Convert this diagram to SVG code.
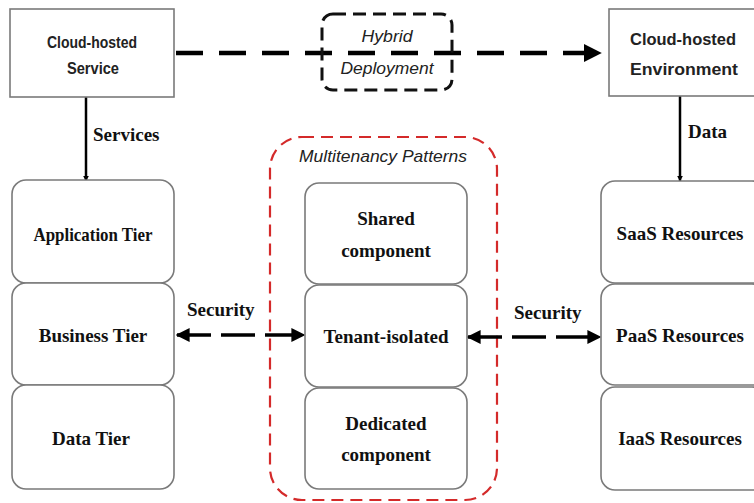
<svg xmlns="http://www.w3.org/2000/svg" width="754" height="503" viewBox="0 0 754 503">
<defs>
<style>
.box{fill:#fff;stroke:#7a7a7a;stroke-width:1.6}
.sans{font-family:"Liberation Sans",Arial,sans-serif;font-weight:bold;font-size:16px;fill:#222;text-anchor:middle}
.ital{font-family:"Liberation Sans",Arial,sans-serif;font-style:italic;font-size:17px;fill:#222;text-anchor:middle}
.serif{font-family:"Liberation Serif","Times New Roman",serif;font-weight:bold;font-size:19px;fill:#111;text-anchor:middle}
.lbl{font-family:"Liberation Serif","Times New Roman",serif;font-weight:bold;font-size:19px;fill:#111}
.conn{stroke:#000;fill:none}
</style>
<marker id="ah" viewBox="0 0 10 10" refX="9" refY="5" markerWidth="4" markerHeight="4" orient="auto-start-reverse" markerUnits="strokeWidth">
<path d="M0,0 L10,5 L0,10 z" fill="#000"/>
</marker>
<marker id="ahs" viewBox="0 0 10 10" refX="9" refY="5" markerWidth="6" markerHeight="6" orient="auto-start-reverse" markerUnits="userSpaceOnUse">
<path d="M0,0 L10,5 L0,10 z" fill="#000"/>
</marker>
</defs>
<rect width="754" height="503" fill="#fff"/>

<g id="multitenancy-group">
<rect x="270" y="137" width="227" height="363" rx="32" fill="none" stroke="#d42a2a" stroke-width="2.2" stroke-dasharray="12 7"/>
<text class="ital" x="383" y="162" textLength="168" lengthAdjust="spacingAndGlyphs">Multitenancy Patterns</text>
</g>

<g id="connectors">
<line class="conn" x1="176" y1="53" x2="600" y2="53" stroke-width="4.5" stroke-dasharray="27 16" marker-end="url(#ah)"/>
<line class="conn" x1="86" y1="97" x2="86" y2="181" stroke-width="2.5" marker-end="url(#ahs)"/>
<line class="conn" x1="680" y1="96" x2="680" y2="181" stroke-width="2.5" marker-end="url(#ahs)"/>
<line class="conn" x1="177" y1="335" x2="304" y2="335" stroke-width="3.5" stroke-dasharray="34 10" marker-start="url(#ah)" marker-end="url(#ah)"/>
<line class="conn" x1="468" y1="337" x2="600" y2="337" stroke-width="3.5" stroke-dasharray="34 10" marker-start="url(#ah)" marker-end="url(#ah)"/>
<text class="lbl" x="93" y="141">Services</text>
<text class="lbl" x="688" y="138">Data</text>
<text class="lbl" x="187" y="316">Security</text>
<text class="lbl" x="514" y="319">Security</text>
</g>

<g id="cloud-service">
<rect class="box" x="10" y="9" width="164" height="88"/>
<text class="sans" x="92" y="48" textLength="90" lengthAdjust="spacingAndGlyphs">Cloud-hosted</text>
<text class="sans" x="93" y="74" textLength="52" lengthAdjust="spacingAndGlyphs">Service</text>
</g>

<g id="hybrid">
<rect x="322" y="14" width="130" height="76" rx="11" fill="none" stroke="#111" stroke-width="3" stroke-dasharray="13 7"/>
<text class="ital" x="387" y="42" textLength="51" lengthAdjust="spacingAndGlyphs">Hybrid</text>
<text class="ital" x="387" y="74" textLength="93" lengthAdjust="spacingAndGlyphs">Deployment</text>
</g>

<g id="cloud-env">
<rect class="box" x="609" y="9" width="150" height="87"/>
<text class="sans" x="683" y="45" font-size="19" textLength="106" lengthAdjust="spacingAndGlyphs">Cloud-hosted</text>
<text class="sans" x="684" y="75" font-size="19" textLength="108" lengthAdjust="spacingAndGlyphs">Environment</text>
</g>

<g id="app-tier">
<rect class="box" x="12" y="180" width="162" height="103" rx="14"/>
<text class="serif" x="93" y="241" font-size="16.5" textLength="119" lengthAdjust="spacingAndGlyphs">Application Tier</text>
</g>
<g id="business-tier">
<rect class="box" x="12" y="283" width="162" height="102" rx="14"/>
<text class="serif" x="93" y="342">Business Tier</text>
</g>
<g id="data-tier">
<rect class="box" x="12" y="385" width="162" height="104" rx="14"/>
<text class="serif" x="91" y="445">Data Tier</text>
</g>

<g id="shared">
<rect class="box" x="305" y="183" width="162" height="101" rx="14"/>
<text class="serif" x="386" y="225">Shared</text>
<text class="serif" x="386" y="257">component</text>
</g>
<g id="tenant-isolated">
<rect class="box" x="305" y="285" width="162" height="102" rx="14"/>
<text class="serif" x="386" y="343">Tenant-isolated</text>
</g>
<g id="dedicated">
<rect class="box" x="305" y="388" width="162" height="101" rx="14"/>
<text class="serif" x="386" y="430">Dedicated</text>
<text class="serif" x="386" y="461">component</text>
</g>

<g id="saas">
<rect class="box" x="601" y="181" width="165" height="102" rx="14"/>
<text class="serif" x="680" y="240">SaaS Resources</text>
</g>
<g id="paas">
<rect class="box" x="601" y="284" width="165" height="101" rx="14"/>
<text class="serif" x="680" y="342">PaaS Resources</text>
</g>
<g id="iaas">
<rect class="box" x="601" y="387" width="165" height="103" rx="14"/>
<text class="serif" x="680" y="445">IaaS Resources</text>
</g>
</svg>
